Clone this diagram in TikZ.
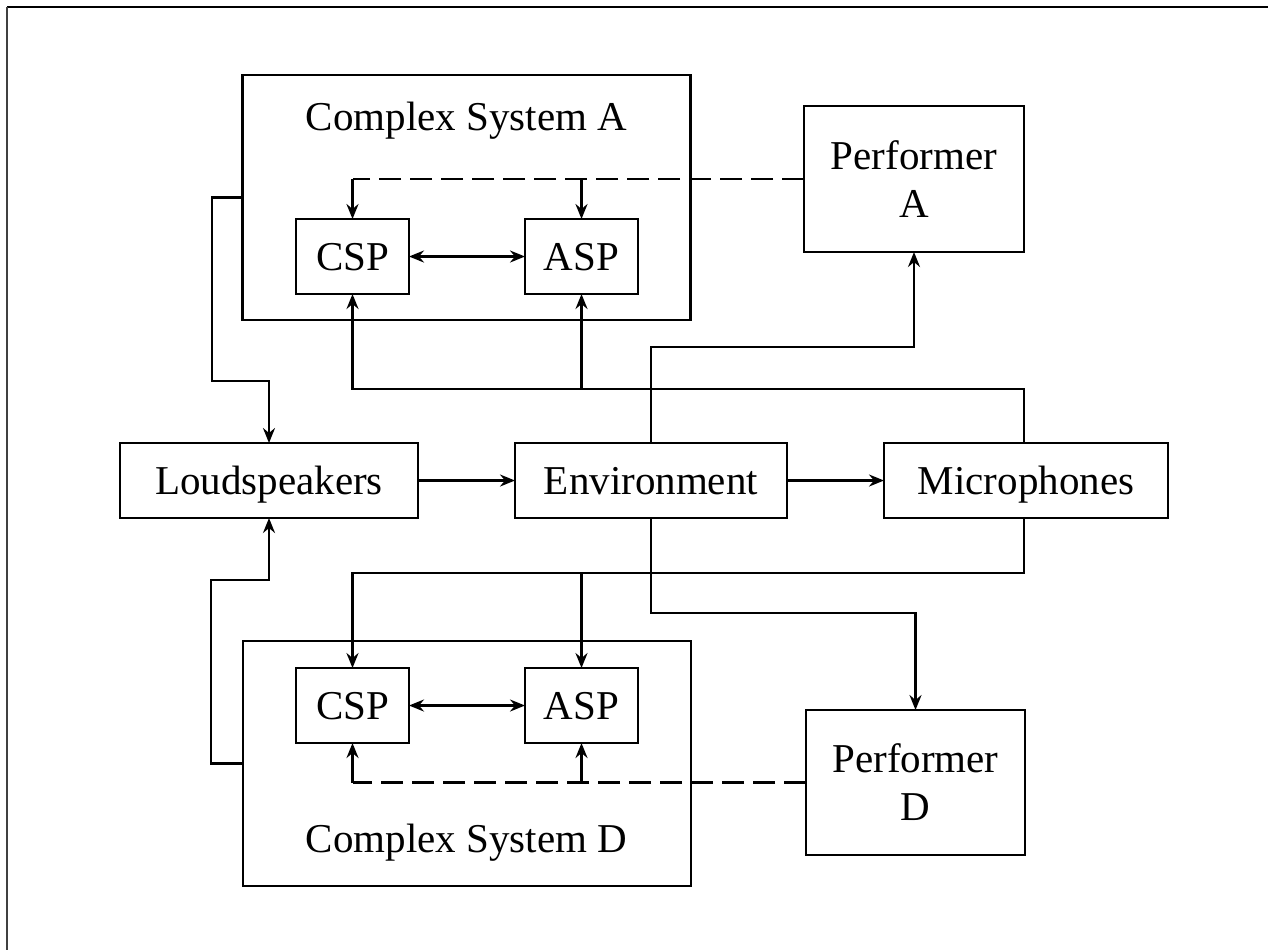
\documentclass[tikz,border=0pt]{standalone}
\usepackage{fontspec}
\setmainfont{Liberation Serif}
\usetikzlibrary{arrows.meta,calc}
\begin{document}
\begin{tikzpicture}[x=0.5pt,y=-0.5pt,
  box/.style={draw,line width=1.4pt,inner sep=0pt,outer sep=0pt,align=center,
    font=\fontsize{20.5}{24}\selectfont},
  sbox/.style={box,text height=13.6pt,text depth=0pt},
  txt/.style={inner sep=0pt,text height=13.6pt,text depth=0pt,font=\fontsize{20.5}{24}\selectfont},
  conn/.style={line width=1.3pt},
  arr/.style={conn,-{Stealth[length=7.5pt,width=6pt,inset=2.5pt]}},
  arr2/.style={conn,{Stealth[length=7.5pt,width=6pt,inset=2.5pt]}-{Stealth[length=7.5pt,width=6pt,inset=2.5pt]}},
  dsh/.style={conn,dash pattern=on 11pt off 4.5pt}]
\useasboundingbox (0,0) rectangle (1268,950);
\draw[line width=1pt] (7,7) -- (1268,7);
\draw[line width=1pt,black!75] (7,7) -- (7,950);

% Complex systems
\node[box,minimum width=224pt,minimum height=122.5pt] (csA) at (466.5,197.5) {};
\node[txt] (csAt) at (466.5,117) {Complex System A};
\node[box,minimum width=224pt,minimum height=122.5pt] (csD) at (467,763.5) {};
\node[txt] (csDt) at (466.5,839) {Complex System D};

\node[sbox,minimum width=56.5pt,minimum height=37.5pt] (cspA) at (352.5,256.5) {CSP};
\node[sbox,minimum width=56.5pt,minimum height=37.5pt] (aspA) at (581.5,256.5) {ASP};
\node[sbox,minimum width=56.5pt,minimum height=37.5pt] (cspD) at (352.5,705.5) {CSP};
\node[sbox,minimum width=56.5pt,minimum height=37.5pt] (aspD) at (581.5,705.5) {ASP};

\node[box,minimum width=110pt,minimum height=73pt] (pA) at (914,179) {Performer\\A};
\node[box,minimum width=109.5pt,minimum height=72.5pt] (pD) at (915.5,782.5) {Performer\\D};

\node[sbox,minimum width=149pt,minimum height=37.5pt] (ls) at (269,480.5) {Loudspeakers};
\node[sbox,minimum width=136pt,minimum height=37.5pt] (env) at (651,480.5) {Environment};
\node[sbox,minimum width=142pt,minimum height=37.5pt] (mic) at (1026,480.5) {Microphones};

% internal links
\draw[arr2] (cspA) -- (aspA);
\draw[arr2] (cspD) -- (aspD);

% dashed performer links
\draw[dsh] (pA.west) -- (cspA.north |- pA.west);
\draw[arr] (cspA.north |- pA.west) -- (cspA.north);
\draw[arr] (aspA.north |- pA.west) -- (aspA.north);
\draw[dsh] (pD.west) -- (cspD.south |- pD.west);
\draw[arr] (cspD.south |- pD.west) -- (cspD.south);
\draw[arr] (aspD.south |- pD.west) -- (aspD.south);

% systems to loudspeakers
\draw[arr] (csA.west) -| (212,381) -| (ls.north);
\draw[arr] (csD.west) -| (211,580) -| (ls.south);

% main chain
\draw[arr] (ls) -- (env);
\draw[arr] (env) -- (mic);

% environment to performers
\draw[arr] (env.north) -- ++(0,-96) -| (pA.south);
\draw[arr] (env.south) -- ++(0,95) -| (pD.south |- pD.north);

% microphones to systems
\coordinate (mA) at (1024,443);
\coordinate (mD) at (1024,518);
\draw[arr] (mA) -- ++(0,-54) -| (cspA.south);
\coordinate (bA) at (581.5,389);
\draw[arr] (bA) -- (aspA.south);
\draw[arr] (mD) -- ++(0,55) -| (cspD.north);
\coordinate (bD) at (581.5,573);
\draw[arr] (bD) -- (aspD.north);
\end{tikzpicture}
\end{document}
